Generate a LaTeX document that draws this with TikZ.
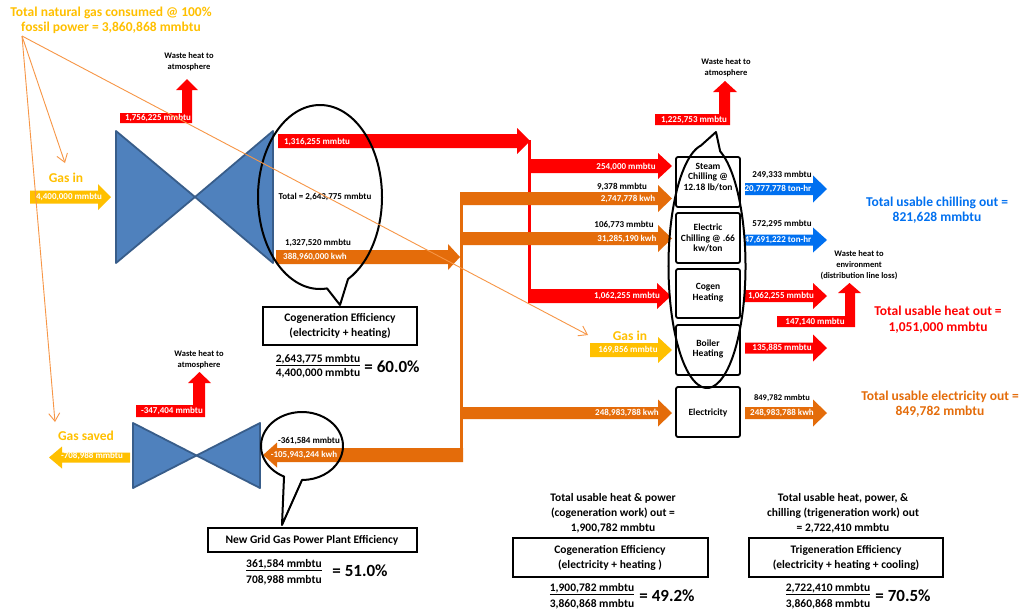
\documentclass[tikz,border=0pt]{standalone}
\usepackage{fontspec}
\setmainfont{Carlito}
\usetikzlibrary{arrows.meta}
\definecolor{cred}{HTML}{FF0000}
\definecolor{corange}{HTML}{E46C0A}
\definecolor{cyellow}{HTML}{FFC000}
\definecolor{cblue}{HTML}{0070F0}
\definecolor{cthin}{HTML}{F79646}
\definecolor{cbtfill}{HTML}{4F81BD}
\definecolor{cbtline}{HTML}{385D8A}
\newcommand\harrow[7]{%
 \fill[#1] (#2,{#4-(#5)}) -- ({#3-(#7)},{#4-(#5)}) -- ({#3-(#7)},{#4-(#6)}) -- (#3,#4) -- ({#3-(#7)},{#4+(#6)}) -- ({#3-(#7)},{#4+(#5)}) -- (#2,{#4+(#5)}) -- cycle;}
\begin{document}
\begin{tikzpicture}[x=1pt,y=-1pt,
 lbl/.style={font=\bfseries\fontsize{9}{10}\selectfont, inner sep=0pt},
 wl/.style={lbl, text=white},
 bl/.style={lbl, text=black},
 tiny/.style={font=\bfseries\fontsize{8.5}{11}\selectfont, inner sep=0pt, align=center},
 big/.style={font=\bfseries\fontsize{13.5}{15.5}\selectfont, inner sep=0pt, align=center},
 boxtxt/.style={font=\bfseries\fontsize{9.5}{10.8}\selectfont, inner sep=0pt, align=center},
 efftxt/.style={font=\bfseries\fontsize{11.5}{15}\selectfont, inner sep=0pt, align=center},
 frac/.style={font=\bfseries\fontsize{11.5}{13}\selectfont, inner sep=0pt},
 pct/.style={font=\bfseries\fontsize{17}{19}\selectfont, inner sep=0pt},
 bowtie/.style={fill=cbtfill, draw=cbtline, line width=1.8pt, line join=round},
 unit/.style={draw=black, line width=1.8pt, rounded corners=2pt},
 effbox/.style={draw=black, line width=1.1pt},
 bubble/.style={draw=black, line width=2pt, line join=round},
 thin/.style={draw=cthin, line width=0.9pt, -{Straight Barb[length=8pt,width=11pt]}}
]
\useasboundingbox (0,0) rectangle (1022,611);
\fill[white] (0,0) rectangle (1022,611);

% ---------- title ----------
\node[big, text=cyellow] (title) at (111,20.5) {Total natural gas consumed @ 100\%\\fossil power = 3,860,868 mmbtu};
\coordinate (fan) at (22,36);

% ---------- cogeneration plant ----------
\filldraw[bowtie] (116,131) -- (116,263) -- (195,197) -- cycle;
\filldraw[bowtie] (273,131) -- (273,263) -- (195,197) -- cycle;

% gas in (left)
\node[big, text=cyellow] (gasin1) at (66,178) {Gas in};
\harrow{cyellow}{30}{111}{197}{6.5}{13}{13}
\node[wl] (gasin1v) at (69,197) {4,400,000 mmbtu};

% waste heat top-left
\fill[cred] (120,113) -- (182,113) -- (182,90) -- (176,90) -- (187,79) -- (198,90) -- (192,90) -- (192,123) -- (120,123) -- cycle;
\node[wl] (w1v) at (158,118) {1,756,225 mmbtu};
\node[tiny] (w1t) at (189,61.5) {Waste heat to\\atmosphere};

% outputs of cogeneration
\harrow{cred}{278}{530}{141}{7}{13}{13}
\node[wl] (heat1) at (317,142) {1,316,255 mmbtu};
\harrow{corange}{276}{460}{257}{7}{13}{12}
\node[bl] (el1a) at (318,243) {1,327,520 mmbtu};
\node[wl] (el1b) at (315,257) {388,960,000 kwh};
\node[bl] (tot1) at (325,197) {Total = 2,643,775 mmbtu};

% buses
\fill[cred] (527.5,140) rectangle (530.5,303);
\fill[corange] (459.5,192) rectangle (462.5,462);

% ---------- branches to units ----------
\harrow{cred}{529}{672}{166}{7}{13}{14}
\node[wl] (b1) at (626,167) {254,000 mmbtu};
\harrow{corange}{461}{672}{198.5}{6.5}{13.5}{14}
\node[bl] (b2a) at (622,187) {9,378 mmbtu};
\node[wl] (b2b) at (628,198.5) {2,747,778 kwh};
\harrow{corange}{461}{672}{238.5}{6.5}{13.5}{14}
\node[bl] (b3a) at (624,225) {106,773 mmbtu};
\node[wl] (b3b) at (627,238.5) {31,285,190 kwh};
\harrow{cred}{529}{671}{296}{7}{13}{14}
\node[wl] (b4) at (627,296) {1,062,255 mmbtu};
\harrow{cyellow}{590}{672}{350}{7}{13}{14}
\node[wl] (b5) at (628,350) {169,856 mmbtu};
\node[big, text=cyellow] (gasin2) at (630,336) {Gas in};
\harrow{corange}{461}{672}{413}{6}{13.5}{14}
\node[wl] (b6) at (627,413) {248,983,788 kwh};

% ---------- unit boxes ----------
\draw[unit] (676,157) rectangle (740,207);
\node[boxtxt] (steam) at (708,177) {Steam\\Chilling @\\12.18 lb/ton};
\draw[unit] (676,213) rectangle (740,263);
\node[boxtxt] (elchill) at (708,238) {Electric\\Chilling @ .66\\kw/ton};
\draw[unit] (676,269) rectangle (740,318);
\node[boxtxt] (cogenh) at (708,292.5) {Cogen\\Heating};
\draw[unit] (676,325) rectangle (740,375);
\node[boxtxt] (boilh) at (708,349) {Boiler\\Heating};
\draw[unit] (676,387) rectangle (740,437);
\node[boxtxt] (elec) at (708,413) {Electricity};

% waste heat top-right
\fill[cred] (655,114) -- (719,114) -- (719,92) -- (713,92) -- (725,81) -- (737,92) -- (730,92) -- (730,125) -- (655,125) -- cycle;
\node[wl] (w2v) at (694,120) {1,225,753 mmbtu};
\node[tiny] (w2t) at (726,67.5) {Waste heat to\\atmosphere};

% ---------- outputs ----------
\harrow{cblue}{745}{827}{189}{6}{13.5}{14}
\node[bl] (o1a) at (782,175) {249,333 mmbtu};
\node[wl] (o1b) at (778,189) {20,777,778 ton-hr};
\harrow{cblue}{745}{827}{240}{5.5}{12.5}{14}
\node[bl] (o2a) at (782,224) {572,295 mmbtu};
\node[wl] (o2b) at (778,239.5) {47,691,222 ton-hr};
\harrow{cred}{745}{827}{296}{6}{13}{14}
\node[wl] (o3) at (781,296) {1,062,255 mmbtu};
\harrow{cred}{745}{827}{348}{5.5}{13.5}{14}
\node[wl] (o4) at (782,348) {135,885 mmbtu};
\harrow{corange}{745}{827}{413}{6}{13.5}{14}
\node[bl, font=\bfseries\fontsize{8.5}{10}\selectfont] (o5a) at (782,398) {849,782 mmbtu};
\node[wl] (o5b) at (782,413) {248,983,788 kwh};

% distribution loss
\fill[cred] (777,316) -- (845,316) -- (845,293) -- (838,293) -- (849.5,283) -- (861,293) -- (855,293) -- (855,327) -- (777,327) -- cycle;
\node[wl] (w3v) at (815,322) {147,140 mmbtu};
\node[tiny, font=\bfseries\fontsize{8.5}{11}\selectfont] (w3t) at (859,265) {Waste heat to\\environment\\(distribution line loss)};

% totals
\node[big, text=cblue] (totchill) at (937,210) {Total usable chilling out =\\821,628 mmbtu};
\node[big, text=cred] (totheat) at (938,319.5) {Total usable heat out =\\1,051,000 mmbtu};
\node[big, text=corange] (totel) at (940,404) {Total usable electricity out =\\849,782 mmbtu};

% ---------- grid gas power plant ----------
\harrow{corange}{463}{263}{455}{7}{12.5}{-14}
\node[bl] (g1a) at (309,441) {-361,584 mmbtu};
\node[wl] (g1b) at (304,455) {-105,943,244 kwh};
\filldraw[bowtie] (133,423) -- (133,488) -- (196.5,455.5) -- cycle;
\filldraw[bowtie] (260,423) -- (260,488) -- (196.5,455.5) -- cycle;
\harrow{cyellow}{130}{49}{457.5}{5}{11}{-13}
\node[wl] (gsv) at (92,455.5) {-708,988 mmbtu};
\node[big, text=cyellow] (gassaved) at (86,436) {Gas saved};
\fill[cred] (136,405) -- (193,405) -- (193,383) -- (188,383) -- (199.5,372) -- (211,383) -- (205,383) -- (205,417) -- (136,417) -- cycle;
\node[wl] (w4v) at (172,411) {-347,404 mmbtu};
\node[tiny] (w4t) at (199,359.5) {Waste heat to\\atmosphere};

% ---------- bubbles ----------
\draw[bubble] (320,197) ++(83.5:62 and 92) arc[start angle=83.5, end angle=423.1, x radius=62, y radius=92] -- (340,305) -- cycle;
\draw[bubble] (707,266) ++(290:38.5 and 122) arc[start angle=290, end angle=621, x radius=38.5, y radius=122] -- (716,132) -- cycle;
\draw[bubble] (302,446) ++(116:41 and 34) arc[start angle=116, end angle=450, x radius=41, y radius=34] -- (282,525) -- cycle;

% ---------- efficiency boxes ----------
\draw[effbox] (263,307) rectangle (417,345);
\node[efftxt] (cogeff) at (340,326) {Cogeneration Efficiency\\(electricity + heating)};
\node[frac] (cf1n) at (318,360) {\underline{2,643,775 mmbtu}};
\node[frac] (cf1d) at (318,373) {4,400,000 mmbtu};
\node[pct] (cf1p) at (392,367) {= 60.0\%};

\draw[effbox] (208,528) rectangle (417,552);
\node[efftxt] (grideff) at (312,540) {New Grid Gas Power Plant Efficiency};
\node[frac] (gfn) at (284,565) {\underline{361,584 mmbtu}};
\node[frac] (gfd) at (284,580) {708,988 mmbtu};
\node[pct] (gfp) at (360,571) {= 51.0\%};

\node[efftxt] (chptxt) at (613,513.5) {Total usable heat \& power\\(cogeneration work) out =\\1,900,782 mmbtu};
\draw[effbox] (513,538) rectangle (708,577);
\node[efftxt] (cogeff2) at (610,557.5) {Cogeneration Efficiency\\(electricity + heating )};
\node[frac] (c2n) at (592,589) {\underline{1,900,782 mmbtu}};
\node[frac] (c2d) at (592,604) {3,860,868 mmbtu};
\node[pct] (c2p) at (667,596) {= 49.2\%};

\node[efftxt] (trtxt) at (843,513.5) {Total usable heat, power, \&\\chilling (trigeneration work) out\\= 2,722,410 mmbtu};
\draw[effbox] (749,538) rectangle (943,577);
\node[efftxt] (trieff) at (846,557.5) {Trigeneration Efficiency\\(electricity + heating + cooling)};
\node[frac] (t2n) at (828,589) {\underline{2,722,410 mmbtu}};
\node[frac] (t2d) at (828,604) {3,860,868 mmbtu};
\node[pct] (t2p) at (903,596) {= 70.5\%};

% ---------- thin gas lines ----------
\coordinate (t1) at (65,163);
\coordinate (t2) at (55,422);
\coordinate (t3) at (588,335);
\draw[thin] (fan) -- (t1);
\draw[thin] (fan) -- (t2);
\draw[thin] (fan) -- (t3);
\end{tikzpicture}
\end{document}
